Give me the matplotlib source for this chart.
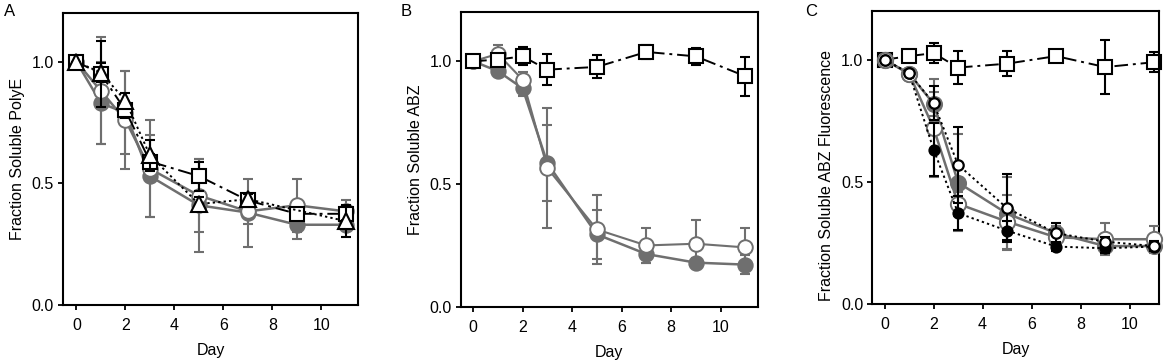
import numpy as np
import matplotlib
matplotlib.use("Agg")
import matplotlib.pyplot as plt

plt.rcParams['font.family'] = ['Liberation Sans', 'DejaVu Sans']

GRAY = '#6f6f6f'

# ---------------- Panel A: Fraction Soluble PolyE ----------------
a_days = [0, 1, 2, 3, 5, 7, 9, 11]
a_tri_days = [0, 1, 2, 3, 5, 7, 11]
a_fill = [1.00, 0.83, 0.79, 0.53, 0.41, 0.38, 0.33, 0.33]
a_fill_err = [0.0, 0.17, 0.17, 0.17, 0.19, 0.14, 0.06, 0.02]
a_open = [1.00, 0.88, 0.76, 0.56, 0.45, 0.385, 0.41, 0.385]
a_open_err = [0.0, 0.22, 0.20, 0.20, 0.15, 0.05, 0.11, 0.045]
a_sq = [1.00, 0.95, 0.80, 0.59, 0.53, 0.43, 0.375, 0.375]
a_sq_err = [0.0, 0.135, 0.03, 0.03, 0.06, 0.02, 0.02, 0.03]
a_tri = [1.00, 0.955, 0.84, 0.615, 0.415, 0.435, 0.345]
a_tri_err = [0.0, 0.04, 0.03, 0.065, 0.03, 0.02, 0.065]

# ---------------- Panel B: Fraction Soluble ABZ ----------------
b_days = [0, 1, 2, 3, 5, 7, 9, 11]
b_fill = [1.00, 0.96, 0.89, 0.585, 0.295, 0.215, 0.18, 0.172]
b_fill_err = [0.0, 0.02, 0.03, 0.155, 0.10, 0.035, 0.02, 0.04]
b_open = [1.00, 1.03, 0.925, 0.565, 0.315, 0.25, 0.257, 0.242]
b_open_err = [0.0, 0.035, 0.03, 0.245, 0.14, 0.07, 0.095, 0.08]
b_sq = [1.00, 1.007, 1.02, 0.966, 0.977, 1.038, 1.02, 0.939]
b_sq_err = [0.0, 0.0, 0.037, 0.063, 0.047, 0.03, 0.036, 0.08]

# ---------------- Panel C: Fraction Soluble ABZ Fluorescence ----------------
c_days = [0, 1, 2, 3, 5, 7, 9, 11]
c_sq = [1.00, 1.015, 1.027, 0.968, 0.984, 1.015, 0.97, 0.99]
c_sq_err = [0.0, 0.0, 0.04, 0.068, 0.05, 0.0, 0.11, 0.04]
c_gfill = [1.00, 0.943, 0.82, 0.497, 0.37, 0.29, 0.237, 0.237]
c_gfill_err = [0.0, 0.0, 0.05, 0.20, 0.15, 0.03, 0.02, 0.02]
c_gopen = [1.00, 0.943, 0.72, 0.41, 0.337, 0.273, 0.265, 0.265]
c_gopen_err = [0.0, 0.0, 0.20, 0.05, 0.11, 0.03, 0.065, 0.055]
c_bfill = [1.00, 0.945, 0.632, 0.372, 0.30, 0.235, 0.228, 0.235]
c_bfill_err = [0.0, 0.0, 0.11, 0.07, 0.04, 0.02, 0.02, 0.02]
c_bopen = [1.00, 0.945, 0.822, 0.57, 0.392, 0.29, 0.255, 0.237]
c_bopen_err = [0.0, 0.0, 0.07, 0.155, 0.14, 0.04, 0.02, 0.02]

x_ticks = [0, 2, 4, 6, 8, 10]
y_ticks = [0.0, 0.5, 1.0]

DASHDOT = (0, (7, 2.5, 1.5, 2.5))
DOTTED = (0, (1.2, 1.6))

fig = plt.figure(figsize=(11.67, 3.64), dpi=100)

ax_pos = [
    [0.054, 0.162, 0.2528, 0.802],
    [0.3948, 0.157, 0.2545, 0.8096],
    [0.7475, 0.165, 0.2457, 0.805],
]
xlims = [(-0.55, 11.5), (-0.5, 11.5), (-0.5, 11.2)]
ylabels = ["Fraction Soluble PolyE", "Fraction Soluble ABZ",
           "Fraction Soluble ABZ Fluorescence"]
ylabel_y = [0.5, 0.5, 0.44]
letters = ["A", "B", "C"]
letter_x = [0.003, 0.343, 0.690]

FS = 11.5
axes = []
for i in range(3):
    ax = fig.add_axes(ax_pos[i])
    ax.set_xlim(*xlims[i])
    ax.set_ylim(0, 1.2)
    ax.set_xticks(x_ticks)
    ax.set_yticks(y_ticks)
    ax.set_yticklabels(["%.1f" % v for v in y_ticks])
    for s in ax.spines.values():
        s.set_linewidth(1.5)
    ax.tick_params(direction='out', length=3.5, width=1.3, labelsize=FS)
    ax.tick_params(axis='x', pad=6)
    ax.tick_params(axis='y', pad=3)
    ax.set_xlabel("Day", fontsize=FS, labelpad=7)
    ax.set_ylabel(ylabels[i], fontsize=FS, labelpad=5, y=ylabel_y[i])
    fig.text(letter_x[i], 0.988, letters[i], fontsize=12, ha='left', va='top')
    axes.append(ax)


def series(ax, x, y, err, color, ls, marker, mfc, mec, ms, lw, ecolor, mew, z):
    ax.errorbar(x, y, yerr=err, fmt='none', ecolor=ecolor, elinewidth=1.5,
                capsize=3.5, capthick=1.5, zorder=z)
    ax.plot(x, y, color=color, ls=ls, lw=lw, marker=marker, mfc=mfc, mec=mec,
            ms=ms, mew=mew, zorder=z + 0.5, clip_on=False)


# Panel A
ax = axes[0]
series(ax, a_days, a_fill, a_fill_err, GRAY, '-', 'o', GRAY, GRAY, 10.5, 1.8, GRAY, 1.3, 2)
series(ax, a_days, a_open, a_open_err, GRAY, '-', 'o', 'white', GRAY, 10.5, 1.8, GRAY, 1.4, 3)
series(ax, a_days, a_sq, a_sq_err, 'black', DASHDOT, 's', 'white', 'black', 9.5, 1.4, 'black', 1.5, 4)
series(ax, a_tri_days, a_tri, a_tri_err, 'black', DOTTED, '^', 'white', 'black', 11, 1.4, 'black', 1.5, 5)

# Panel B
ax = axes[1]
series(ax, b_days, b_fill, b_fill_err, GRAY, '-', 'o', GRAY, GRAY, 10.5, 1.8, GRAY, 1.3, 2)
series(ax, b_days, b_open, b_open_err, GRAY, '-', 'o', 'white', GRAY, 10.5, 1.5, GRAY, 1.4, 3)
series(ax, b_days, b_sq, b_sq_err, 'black', DASHDOT, 's', 'white', 'black', 9.5, 1.4, 'black', 1.5, 4)

# Panel C
ax = axes[2]
series(ax, c_days, c_sq, c_sq_err, 'black', DASHDOT, 's', 'white', 'black', 9.5, 1.4, 'black', 1.5, 2)
series(ax, c_days, c_gfill, c_gfill_err, GRAY, '-', 'o', GRAY, GRAY, 11, 1.8, GRAY, 1.3, 3)
series(ax, c_days, c_gopen, c_gopen_err, GRAY, '-', 'o', 'white', GRAY, 11, 1.8, GRAY, 1.4, 4)
series(ax, c_days, c_bfill, c_bfill_err, 'black', DOTTED, 'o', 'black', 'black', 7.5, 1.4, 'black', 1.3, 5)
series(ax, c_days, c_bopen, c_bopen_err, 'black', DOTTED, 'o', 'white', 'black', 7.5, 1.4, 'black', 1.6, 6)

fig.savefig("out.png", dpi=100)
